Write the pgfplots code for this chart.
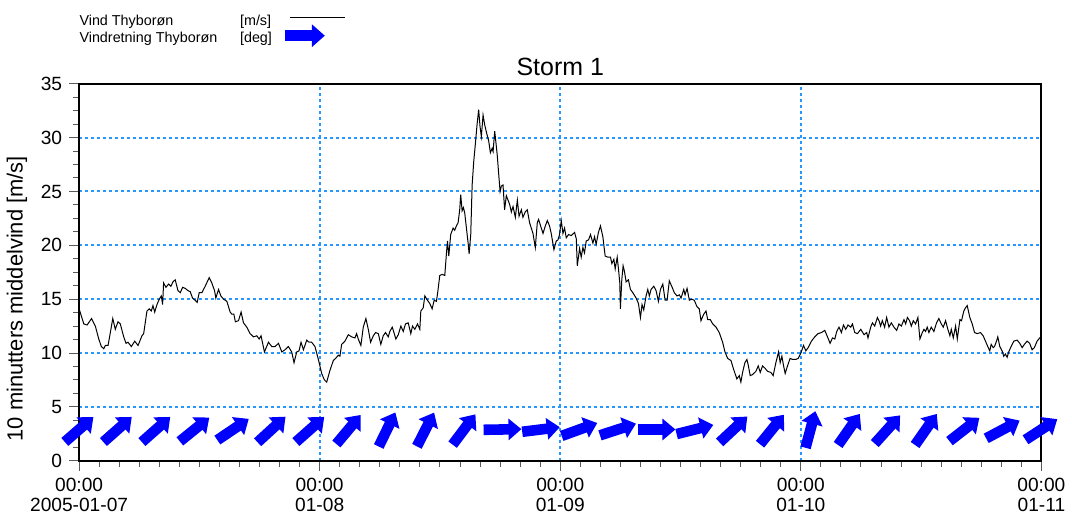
\documentclass[border=0pt]{standalone}
\usepackage{fontspec}
\setmainfont{Liberation Sans}
\usepackage{pgfplots}
\usepackage{pgfplotstable}
\pgfplotsset{compat=1.18}
\usetikzlibrary{arrows.meta}

\definecolor{gridblue}{RGB}{40,150,255}

% 10 min mean wind, Thyboron (hours from 2005-01-07 00:00, m/s)
\pgfplotstableread{
t v
0.00 14.1
0.47 12.7
0.80 12.6
1.24 13.2
1.62 12.5
1.96 11.3
2.22 10.6
2.46 10.4
2.62 10.7
2.89 10.7
3.36 13.2
3.61 12.2
3.88 12.9
4.11 12.7
4.45 11.5
4.68 10.9
4.88 11.0
5.21 10.6
5.55 11.1
5.88 10.7
6.27 11.6
6.44 11.8
6.77 13.9
7.00 14.1
7.20 13.9
7.37 14.4
7.54 13.8
7.77 14.5
8.00 15.0
8.20 15.3
8.33 14.5
8.43 16.5
8.66 16.1
8.93 16.4
9.16 16.2
9.36 16.6
9.59 16.8
9.86 15.8
10.09 15.6
10.33 16.1
10.59 16.0
10.85 15.8
11.08 15.7
11.32 15.1
11.58 14.9
11.78 14.7
11.98 15.6
12.25 15.6
12.58 16.2
12.98 17.0
13.24 16.5
13.51 15.8
13.64 15.1
13.91 15.9
14.14 15.3
14.41 15.0
14.74 14.8
15.07 13.8
15.24 13.6
15.44 13.6
15.59 12.9
15.90 13.0
16.16 13.8
16.40 12.8
16.73 12.4
17.06 11.8
17.40 11.5
17.73 11.6
17.96 11.3
18.15 11.6
18.49 10.1
18.89 11.0
19.22 10.6
19.55 10.6
19.89 10.9
20.22 10.1
20.54 10.3
20.88 10.6
21.21 10.1
21.44 9.1
21.71 10.1
21.94 10.2
22.14 11.0
22.38 10.3
22.71 11.2
22.93 11.0
23.20 11.0
23.53 10.6
23.87 9.4
24.20 8.1
24.47 7.5
24.70 7.3
25.03 8.4
25.36 9.3
25.59 9.5
25.86 9.8
26.02 9.7
26.19 10.8
26.52 11.1
26.86 11.7
27.19 11.5
27.52 11.4
27.68 11.8
27.85 11.3
28.11 10.7
28.35 12.4
28.61 13.2
28.85 12.2
29.08 11.0
29.35 11.6
29.58 11.9
29.85 11.8
30.10 10.8
30.34 11.6
30.57 11.9
30.84 11.5
31.00 12.0
31.24 12.4
31.44 11.8
31.60 11.3
31.84 11.7
32.10 12.5
32.34 12.0
32.56 12.7
32.83 12.8
33.09 11.8
33.26 12.5
33.49 12.2
33.76 12.7
33.99 12.2
34.09 13.9
34.33 14.2
34.49 15.3
34.75 14.9
34.98 14.6
35.22 14.1
35.42 14.9
35.65 14.8
35.80 15.8
35.98 17.2
36.22 17.3
36.48 17.2
36.65 19.3
36.75 20.4
36.88 19.0
37.07 21.0
37.31 21.6
37.47 21.4
37.64 21.8
37.81 22.1
37.97 23.3
38.07 24.7
38.21 23.2
38.34 23.5
38.47 23.0
38.64 21.6
38.81 20.2
38.91 19.2
39.07 21.0
39.21 25.6
39.37 27.8
39.53 29.4
39.70 31.2
39.86 32.6
40.00 31.0
40.13 30.1
40.30 32.1
40.46 31.2
40.66 30.4
40.86 29.7
41.03 28.6
41.20 29.0
41.30 28.7
41.46 30.6
41.60 29.4
41.72 28.3
41.86 26.6
42.00 25.0
42.12 25.5
42.29 25.6
42.45 23.3
42.62 24.6
42.79 24.2
42.95 23.8
43.12 23.1
43.29 23.6
43.52 22.6
43.72 24.2
43.89 22.7
44.12 23.3
44.28 22.6
44.51 23.1
44.71 23.3
44.94 22.1
45.11 21.6
45.28 21.1
45.51 19.8
45.71 22.1
45.84 22.4
46.04 21.8
46.28 21.1
46.51 21.8
46.71 22.3
46.93 21.8
47.10 21.1
47.37 19.6
47.60 20.4
47.77 20.5
47.93 21.0
48.10 22.3
48.27 21.1
48.43 21.6
48.60 20.7
48.83 21.0
49.10 20.9
49.43 21.2
49.60 20.6
49.70 18.1
49.93 19.7
50.09 18.9
50.26 19.8
50.42 19.3
50.59 20.4
50.82 20.5
51.02 21.0
51.26 20.2
51.42 20.8
51.58 20.1
51.81 21.2
52.01 21.8
52.25 20.8
52.48 19.0
52.75 18.9
53.01 18.9
53.15 18.3
53.35 18.7
53.48 17.8
53.68 18.9
53.81 17.8
53.94 16.5
54.00 14.1
54.14 16.8
54.27 18.1
54.40 17.6
54.57 16.6
54.80 16.8
55.00 15.9
55.24 15.6
55.57 15.1
55.80 14.6
56.00 13.3
56.16 14.5
56.33 14.0
56.56 15.3
56.73 15.9
56.89 15.3
57.06 15.9
57.33 16.2
57.56 15.8
57.79 14.8
57.99 15.9
58.23 16.4
58.46 14.9
58.66 14.9
58.88 16.7
59.12 16.2
59.38 15.6
59.65 15.3
59.88 15.4
60.05 15.1
60.32 15.9
60.45 15.4
60.65 16.0
60.88 14.9
61.11 15.0
61.37 14.9
61.64 14.3
61.87 14.1
62.04 13.0
62.31 13.6
62.54 13.9
62.71 13.1
62.97 13.1
63.21 12.7
63.54 12.4
63.86 11.9
64.20 11.0
64.43 10.1
64.70 9.5
65.03 9.3
65.29 8.5
65.62 7.6
65.86 7.9
66.02 7.3
66.19 8.2
66.42 9.1
66.62 9.4
66.75 8.9
66.95 7.9
67.19 8.0
67.52 8.3
67.75 8.8
67.95 8.2
68.18 8.8
68.41 8.6
68.68 8.3
69.01 8.2
69.24 7.9
69.51 9.1
69.78 10.1
69.94 9.1
70.11 9.7
70.28 8.8
70.44 8.1
70.67 8.8
70.93 9.5
71.17 9.4
71.50 9.4
71.73 9.5
72.00 10.0
72.27 10.7
72.50 10.2
72.73 10.5
73.06 11.1
73.39 11.5
73.72 11.8
74.06 11.9
74.39 12.1
74.66 11.5
74.92 10.9
75.16 11.4
75.39 11.3
75.58 12.0
75.81 12.4
76.05 11.9
76.25 12.6
76.48 12.2
76.71 12.6
76.98 12.4
77.15 12.7
77.38 11.9
77.65 11.8
77.98 12.2
78.31 11.7
78.57 11.9
78.70 11.4
78.97 12.4
79.14 12.8
79.37 12.5
79.64 13.3
79.80 13.0
79.96 12.5
80.13 13.0
80.36 12.4
80.56 13.3
80.79 12.4
81.03 12.8
81.29 12.4
81.56 12.1
81.79 12.7
82.03 12.5
82.29 13.1
82.46 12.7
82.63 13.3
82.85 13.0
83.02 12.5
83.22 13.0
83.45 12.7
83.68 13.3
83.88 11.3
84.12 11.9
84.28 12.2
84.45 12.0
84.61 12.4
84.78 11.9
85.01 12.4
85.27 12.0
85.54 12.8
85.77 13.2
86.01 12.7
86.21 12.4
86.44 13.0
86.67 12.2
86.87 11.6
87.01 12.2
87.21 11.4
87.44 12.5
87.61 11.3
87.87 13.1
88.03 13.0
88.26 13.9
88.43 14.2
88.60 14.4
88.86 13.3
89.10 12.7
89.33 11.9
89.60 11.8
89.92 11.9
90.19 11.6
90.42 11.1
90.65 10.6
90.85 10.2
90.99 10.8
91.19 10.5
91.32 10.6
91.52 11.1
91.65 11.5
91.85 10.6
92.08 10.2
92.24 9.7
92.41 9.9
92.58 9.6
92.74 10.1
92.98 10.6
93.24 11.1
93.58 11.2
93.84 10.9
94.08 10.5
94.30 10.8
94.57 11.1
94.83 10.9
95.07 10.3
95.30 10.5
95.57 11.1
95.83 11.4
96.00 11.5
}\windspeed

% wind direction arrows: time (h), arrow centre height, arrow angle on the page (deg)
\pgfplotstableread{
t y a
0.00 2.9 41
3.84 2.9 41.5
7.68 2.9 41.5
11.52 2.9 39
15.36 2.9 34
19.20 2.9 42.5
23.04 2.9 41.5
26.88 2.9 50
30.72 2.9 64
34.56 2.9 63
38.40 2.9 53
42.24 2.9 1
46.08 2.9 7
49.92 2.9 20
53.76 2.9 18
57.60 2.9 0
61.44 2.9 14
65.28 2.9 43
69.12 2.9 51
72.96 2.9 75
76.80 2.9 55
80.64 2.9 48
84.48 2.9 55
88.32 2.9 38
92.16 2.9 28
96.00 2.9 33
}\winddir

\tikzset{windarrow/.style={blue, line width=5.3pt, -{Triangle[length=6.5pt,width=10.5pt]}}}

\begin{document}
\begin{tikzpicture}
\begin{axis}[
  scale only axis,
  width=482.5pt, height=189pt,
  xmin=0, xmax=96, ymin=0, ymax=35,
  clip=false,
  xtick={0,24,48,72,96},
  xticklabels={{00:00\\2005-01-07},{00:00\\01-08},{00:00\\01-09},{00:00\\01-10},{00:00\\01-11}},
  ytick={0,5,...,35},
  minor x tick num=11,
  minor y tick num=3,
  xtick pos=bottom, ytick pos=left,
  tick align=outside,
  major tick length=5pt, minor tick length=3pt,
  major tick style={black!65, line width=0.5pt},
  minor tick style={black!65, line width=0.5pt},
  axis line style={line width=1pt},
  xmajorgrids, ymajorgrids,
  major grid style={draw=gridblue, line width=1pt, dash pattern=on 1.5pt off 1.5pt},
  tick label style={font=\fontsize{9.6}{10}\selectfont},
  xticklabel style={align=center},
  /pgf/number format/assume math mode=true,
  title={Storm 1},
  every axis title shift=0pt,
  title style={font=\fontsize{12.5}{14}\selectfont, at={(0.5,1)}, anchor=base, yshift=4pt},
  ylabel={10 minutters middelvind [m/s]},
  ylabel style={font=\fontsize{11}{12}\selectfont, at={(ticklabel cs:0.43)}},
  legend plot pos=right,
  legend cell align=left,
  legend style={at={(0,1)}, anchor=south west, yshift=18.3pt, xshift=-0.5pt,
    draw=none, fill=none, inner sep=0pt, row sep=0pt,
    font=\fontsize{7.2}{8.4}\selectfont,
    nodes={inner sep=0.5pt, text height=5.6pt, text depth=1.8pt}},
]
\addplot[black, line width=0.5pt,
  legend image code/.code={\path[-, draw=none] (0pt,0pt) (36pt,0pt); \draw[overlay, black, line width=0.5pt] (8.5pt,2.2pt) -- (36pt,2.2pt);}]
  table[x=t, y=v] {\windspeed};
\addlegendentry{\makebox[80.5pt][l]{Vind Thyborøn}[m/s]}
\addplot[windarrow,
  quiver={u={3.78*cos(\thisrow{a})}, v={3.519*sin(\thisrow{a})}},
  legend image code/.code={\path[-, draw=none] (0pt,0pt) (36pt,0pt); \draw[overlay, blue, line width=5.3pt, -{Triangle[length=6.5pt,width=11pt]}] (6pt,1.4pt) -- (26pt,1.4pt);}]
  table[x expr={\thisrow{t}-1.89*cos(\thisrow{a})}, y expr={\thisrow{y}-1.7595*sin(\thisrow{a})}] {\winddir};
\addlegendentry{\makebox[80.5pt][l]{Vindretning Thyborøn}[deg]}
\end{axis}
\path[use as bounding box] ([xshift=-38.5pt,yshift=-28pt]current axis.south west) rectangle ([xshift=15pt,yshift=42pt]current axis.north east);
\end{tikzpicture}
\end{document}
